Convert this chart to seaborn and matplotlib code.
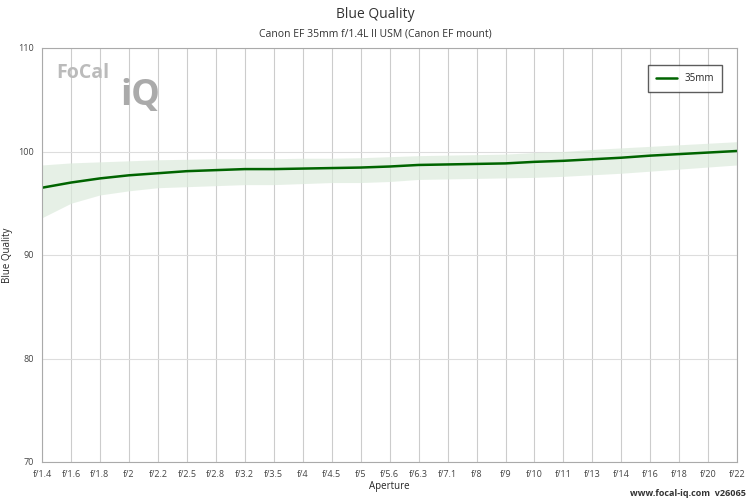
import matplotlib
matplotlib.use("Agg")
import matplotlib.pyplot as plt
import seaborn as sns
import pandas as pd

apertures = ["f/1.4", "f/1.6", "f/1.8", "f/2", "f/2.2", "f/2.5", "f/2.8", "f/3.2", "f/3.5",
             "f/4", "f/4.5", "f/5", "f/5.6", "f/6.3", "f/7.1", "f/8", "f/9", "f/10", "f/11",
             "f/13", "f/14", "f/16", "f/18", "f/20", "f/22"]
quality = [96.5, 97.0, 97.4, 97.7, 97.9, 98.1, 98.2, 98.3, 98.3, 98.35, 98.4, 98.45, 98.55,
           98.7, 98.75, 98.8, 98.85, 99.0, 99.1, 99.25, 99.4, 99.6, 99.75, 99.9, 100.05]
band_low = [93.6, 95.0, 95.8, 96.2, 96.5, 96.6, 96.7, 96.8, 96.8, 96.9, 97.0, 97.0, 97.1,
            97.3, 97.35, 97.4, 97.45, 97.5, 97.6, 97.75, 97.9, 98.1, 98.3, 98.5, 98.7]
band_high = [98.7, 98.9, 99.0, 99.1, 99.2, 99.25, 99.3, 99.3, 99.3, 99.35, 99.35, 99.4, 99.5,
             99.6, 99.65, 99.7, 99.75, 99.9, 100.0, 100.2, 100.35, 100.5, 100.65, 100.8, 100.95]

df = pd.DataFrame({"x": range(len(apertures)), "q": quality})

sns.set_style("white")
plt.rcParams["font.family"] = ["Open Sans", "DejaVu Sans"]
fig = plt.figure(figsize=(7.5, 5), dpi=100)
ax = fig.add_axes([0.056, 0.076, 0.927, 0.828])

ax.fill_between(df["x"], band_low, band_high, color="#dcebdc", alpha=0.7, lw=0)
sns.lineplot(data=df, x="x", y="q", ax=ax, color="#006400", lw=1.8, label="35mm")

ax.set_xlim(0, len(apertures) - 1)
ax.set_ylim(70, 110)
ax.set_xticks(range(len(apertures)))
ax.set_xticklabels(apertures, fontsize=6.5, color="#444")
ax.set_yticks([70, 80, 90, 100, 110])
ax.tick_params(axis="y", labelsize=6.5, colors="#444", pad=2)
ax.tick_params(axis="x", pad=2)
ax.grid(axis="x", color="#cccccc", lw=0.8)
ax.grid(axis="y", color="#dddddd", lw=0.8)
for s in ax.spines.values():
    s.set_color("#aaaaaa")
    s.set_linewidth(0.8)
ax.set_xlabel("Aperture", fontsize=7, labelpad=2)
ax.set_ylabel("Blue Quality", fontsize=7, labelpad=4)

leg = ax.legend(loc="upper right", fontsize=7, frameon=True, fancybox=False,
                edgecolor="#333", borderpad=0.8, handlelength=2.2, bbox_to_anchor=(0.985, 0.97))

fig.text(0.5, 0.965, "Blue Quality", ha="center", fontsize=10, color="#333")
fig.text(0.5, 0.928, "Canon EF 35mm f/1.4L II USM (Canon EF mount)", ha="center", fontsize=7.5, color="#333")
fig.text(0.075, 0.845, "FoCal", fontsize=14, color="#bbbbbb", fontweight="bold")
fig.text(0.16, 0.79, "iQ", fontsize=26, color="#aaaaaa", fontweight="bold")
fig.text(0.995, 0.008, "www.focal-iq.com  v26065", ha="right", fontsize=6.5, fontweight="bold", color="#333")

fig.savefig("out.png", dpi=100)
